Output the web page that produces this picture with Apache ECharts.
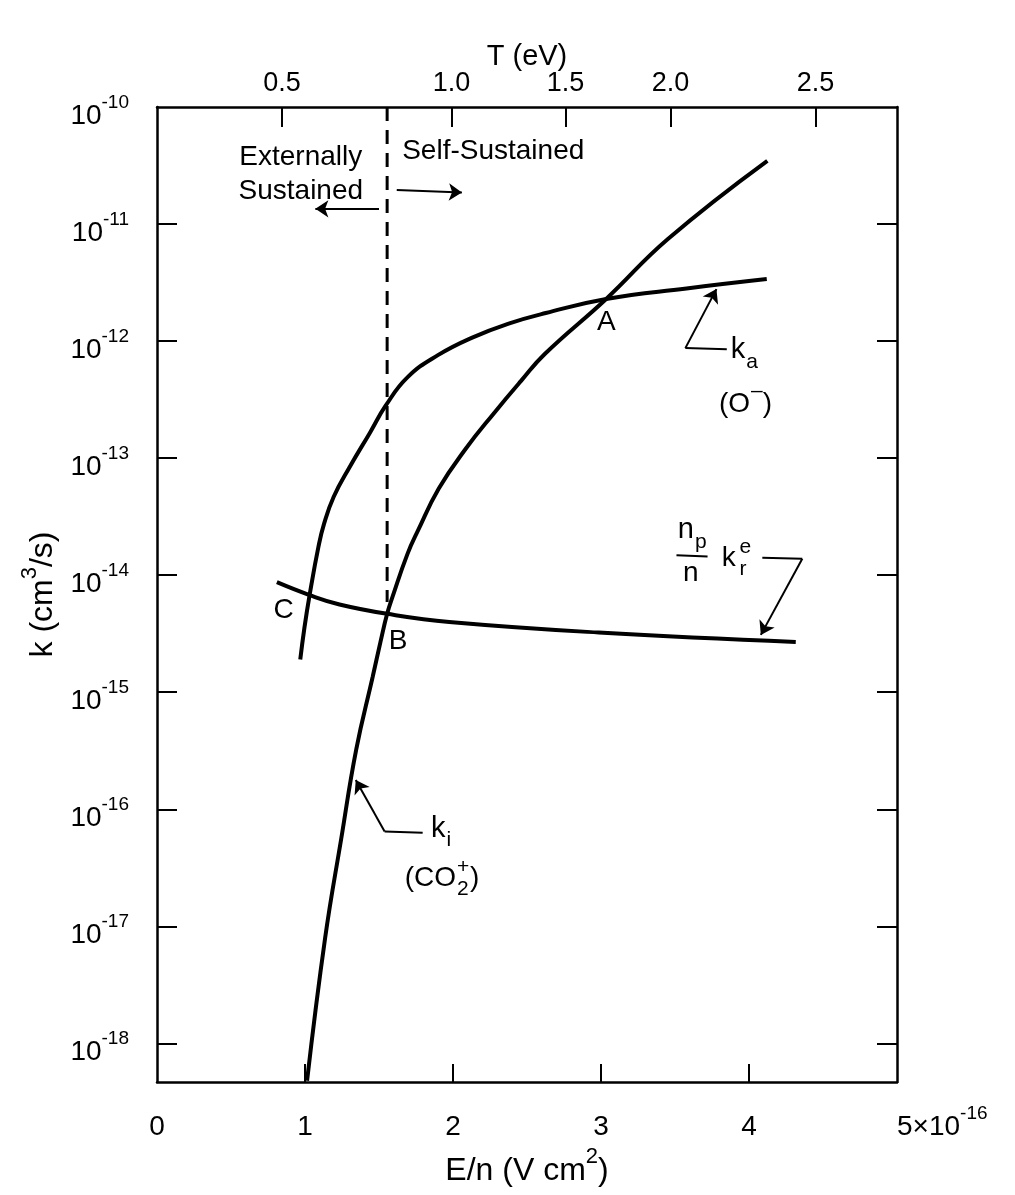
<!DOCTYPE html>
<html>
<head>
<meta charset="utf-8">
<script src="https://cdn.jsdelivr.net/npm/echarts@6/dist/echarts.min.js"></script>
<style>html,body{margin:0;padding:0;background:#fff}#c{width:1015px;height:1195px}</style>
</head>
<body>
<div id="c"></div>
<script>
// E/n in units of 1e-16 V cm^2 ; rate coefficients stored as log10(k [cm^3/s])
const kaEn  = [0.968, 0.996, 1.031, 1.092, 1.129, 1.194, 1.30, 1.44, 1.546, 1.692, 1.898, 2.13, 2.376, 2.627, 3.035, 3.578, 4.12];
const kaLog = [-14.72, -14.45, -14.17, -13.75, -13.56, -13.33, -13.08, -12.78, -12.55, -12.31, -12.12, -11.97, -11.85, -11.76, -11.64, -11.55, -11.47];

const kiEn  = [1.014, 1.136, 1.245, 1.346, 1.457, 1.51, 1.555, 1.59, 1.692, 1.763, 1.904, 2.086, 2.274, 2.46, 2.62, 3.035, 3.45, 4.124];
const kiLog = [-18.32, -17.10, -16.25, -15.49, -14.87, -14.57, -14.33, -14.19, -13.82, -13.62, -13.26, -12.92, -12.62, -12.34, -12.11, -11.64, -11.13, -10.46];

const krEn  = [0.81, 1.031, 1.233, 1.555, 1.975, 2.985, 4.316];
const krLog = [-14.06, -14.17, -14.25, -14.33, -14.40, -14.49, -14.57];

// boundary between externally sustained and self-sustained regimes
const boundaryEn  = [1.555, 1.555];
const boundaryLog = [-10.0, -14.23];

// axes
const enTicks      = [0, 1, 2, 3, 4, 5];
const logTicks     = [-18, -17, -16, -15, -14, -13, -12, -11, -10];
const tTickEn      = [0.845, 1.99, 2.76, 3.47, 4.45];
const tTickLabels  = ['0.5', '1.0', '1.5', '2.0', '2.5'];
const yMin = -18.33, yMax = -10;

const FONT = '"Liberation Sans", Arial, Helvetica, sans-serif';

function zip(a, b) { return a.map((v, i) => [v, b[i]]); }

// text annotations (data coordinates)
const annotations = [
  { p: [0.975, -10.58], text: '{t|Externally}\n{t|Sustained}', align: 'center' },
  { p: [1.66, -10.38],  text: '{t|Self-Sustained}', align: 'left' },
  { p: [3.04, -11.84],  text: '{t|A}', align: 'center' },
  { p: [1.633, -14.57], text: '{t|B}', align: 'center' },
  { p: [0.859, -14.30], text: '{t|C}', align: 'center' },
  { p: [3.88, -12.08],  text: '{k|k}{sb|a}', align: 'left' },
  { p: [3.98, -12.46],  text: '{tb|(O}{sp|\u2013}{tb|)}', align: 'center' },
  { p: [3.62, -13.62],  text: '{k|n}{sb|p}', align: 'center' },
  { p: [3.61, -13.99],  text: '{t|n}', align: 'center' },
  { p: [3.82, -13.86],  text: '{t|k}', align: 'left' },
  { p: [3.94, -13.86],  text: '{sm|e}\n{sm|r}', align: 'left' },
  { p: [1.855, -16.17], text: '{k|k}{sb|i}', align: 'left' },
  { p: [2.024, -16.59], text: '{t|(CO}', align: 'right' },
  { p: [2.03, -16.59],  text: '{sm|+}\n{sm|2}', align: 'left' },
  { p: [2.118, -16.59], text: '{t|)}', align: 'left' }
];

// leader lines / arrows (data coordinates)
const plainSegs = [
  [[3.85, -12.07], [3.57, -12.06]],
  [[4.09, -13.85], [4.36, -13.86]],
  [[1.795, -16.20], [1.538, -16.19]],
  [[3.51, -13.83], [3.72, -13.84]]   // fraction bar n_p / n
];
const arrowSegs = [
  [[3.57, -12.06], [3.78, -11.556]],
  [[4.36, -13.86], [4.08, -14.51]],
  [[1.538, -16.19], [1.343, -15.75]],
  [[1.50, -10.87], [1.07, -10.87]],
  [[1.62, -10.71], [2.06, -10.73]]
];

const richText = {
  t:  { fontFamily: FONT, fontSize: 28, color: '#000', lineHeight: 34 },
  tb: { fontFamily: FONT, fontSize: 28, color: '#000', lineHeight: 28, verticalAlign: 'top', padding: [10, 0, 0, 0] },
  k:  { fontFamily: FONT, fontSize: 29, color: '#000', lineHeight: 29, verticalAlign: 'top' },
  sb: { fontFamily: FONT, fontSize: 21, color: '#000', lineHeight: 21, verticalAlign: 'top', padding: [16, 0, 0, 1] },
  sp: { fontFamily: FONT, fontSize: 21, color: '#000', lineHeight: 21, verticalAlign: 'top', padding: [0, 0, 0, 1] },
  sm: { fontFamily: FONT, fontSize: 21, color: '#000', lineHeight: 22 }
};

const supRich = {
  b: { fontFamily: FONT, fontSize: 28, color: '#000', lineHeight: 28, verticalAlign: 'top', padding: [9, 0, 0, 0] },
  s: { fontFamily: FONT, fontSize: 19, color: '#000', lineHeight: 19, verticalAlign: 'top' }
};

const titleRich = {
  t: { fontFamily: FONT, fontSize: 32, color: '#000', lineHeight: 32, verticalAlign: 'top', padding: [9, 0, 0, 0] },
  s: { fontFamily: FONT, fontSize: 22, color: '#000', lineHeight: 22, verticalAlign: 'top' }
};

const curveStyle = { color: '#000', width: 4 };
const axisLineStyle = { show: true, onZero: false, lineStyle: { color: '#000', width: 2.5 } };

const option = {
  animation: false,
  backgroundColor: '#fff',
  grid: { left: 157, right: 118, top: 107, bottom: 113 },
  xAxis: [
    {
      type: 'value', position: 'bottom', min: 0, max: 5,
      name: '{t|E/n (V cm}{s|2}{t|)}', nameLocation: 'middle', nameGap: 62,
      nameTextStyle: { rich: titleRich },
      axisLine: axisLineStyle,
      axisTick: { show: true, inside: true, length: 18, customValues: [1, 2, 3, 4], lineStyle: { color: '#000', width: 2 } },
      axisLabel: {
        customValues: enTicks, margin: 22, alignMaxLabel: 'left',
        formatter: v => v === 5 ? '{b|5\u00d710}{s|-16}' : '{b|' + v + '}',
        rich: supRich
      },
      splitLine: { show: false }
    },
    {
      type: 'value', position: 'top', min: 0, max: 5,
      name: 'T (eV)', nameLocation: 'middle', nameGap: 36, nameMoveOverlap: false,
      nameTextStyle: { fontFamily: FONT, fontSize: 29, color: '#000' },
      axisLine: axisLineStyle,
      axisTick: { show: true, inside: true, length: 20, customValues: tTickEn, lineStyle: { color: '#000', width: 2 } },
      axisLabel: {
        customValues: tTickEn, margin: 10,
        fontFamily: FONT, fontSize: 27, color: '#000',
        formatter: v => { const i = tTickEn.findIndex(t => Math.abs(t - v) < 1e-6); return i >= 0 ? tTickLabels[i] : ''; }
      },
      splitLine: { show: false }
    }
  ],
  yAxis: [
    {
      type: 'value', position: 'left', min: yMin, max: yMax,
      name: '{t|k (cm}{s|3}{t|/s)}', nameLocation: 'middle', nameGap: 98,
      nameTextStyle: { rich: titleRich },
      axisLine: axisLineStyle,
      axisTick: { show: true, inside: true, length: 20, customValues: logTicks.slice(0, 8), lineStyle: { color: '#000', width: 2 } },
      axisLabel: {
        customValues: logTicks, margin: 28,
        formatter: v => '{b|10}{s|' + v + '}',
        rich: supRich
      },
      splitLine: { show: false }
    },
    {
      type: 'value', position: 'right', min: yMin, max: yMax,
      axisLine: axisLineStyle,
      axisTick: { show: true, inside: true, length: 20, customValues: logTicks.slice(0, 8), lineStyle: { color: '#000', width: 2 } },
      axisLabel: { show: false },
      splitLine: { show: false }
    }
  ],
  series: [
    { name: 'k_a (O-)', type: 'line', data: zip(kaEn, kaLog), showSymbol: false, smooth: 0.45, lineStyle: curveStyle, z: 3 },
    { name: 'k_i (CO2+)', type: 'line', data: zip(kiEn, kiLog), showSymbol: false, smooth: 0.45, lineStyle: curveStyle, z: 3 },
    { name: 'n_p/n k_r^e', type: 'line', data: zip(krEn, krLog), showSymbol: false, smooth: 0.45, lineStyle: curveStyle, z: 3 },
    { name: 'boundary', type: 'line', data: zip(boundaryEn, boundaryLog), showSymbol: false,
      lineStyle: { color: '#000', width: 3, type: [14, 9] }, z: 2 },
    { type: 'lines', coordinateSystem: 'cartesian2d', silent: true,
      data: plainSegs.map(c => ({ coords: c })),
      symbol: ['none', 'none'],
      lineStyle: { color: '#000', width: 2, opacity: 1 }, z: 4 },
    { type: 'lines', coordinateSystem: 'cartesian2d', silent: true,
      data: arrowSegs.map(c => ({ coords: c })),
      symbol: ['none', 'arrow'], symbolSize: 13,
      itemStyle: { color: '#000' },
      lineStyle: { color: '#000', width: 2, opacity: 1 }, z: 4 },
    { type: 'scatter', silent: true, symbolSize: 1, itemStyle: { color: 'rgba(0,0,0,0)' }, z: 5,
      data: annotations.map(a => ({
        value: a.p,
        label: { show: true, position: [0, 0], formatter: a.text, align: a.align, verticalAlign: 'middle',
                 color: '#000', textBorderWidth: 0, opacity: 1, rich: richText }
      }))
    }
  ]
};

const chart = echarts.init(document.getElementById('c'), null, { renderer: 'canvas' });
chart.setOption(option);
</script>
</body>
</html>
